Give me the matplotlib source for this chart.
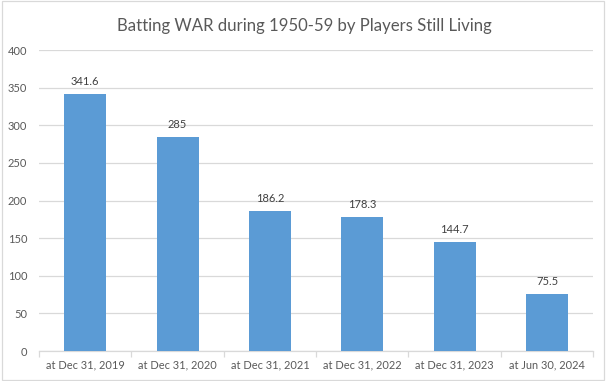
import matplotlib.pyplot as plt
from matplotlib.patches import Rectangle

# ------------------ Data ------------------
categories = ["at Dec 31, 2019", "at Dec 31, 2020", "at Dec 31, 2021",
              "at Dec 31, 2022", "at Dec 31, 2023", "at Jun 30, 2024"]
war = [341.6, 285, 186.2, 178.3, 144.7, 75.5]
labels = ["341.6", "285", "186.2", "178.3", "144.7", "75.5"]
yticks = [0, 50, 100, 150, 200, 250, 300, 350, 400]

BAR = "#5B9BD5"
TXT = "#595959"
GRID = "#D9D9D9"

plt.rcParams['font.family'] = ['Lato', 'DejaVu Sans']

fig = plt.figure(figsize=(6.09, 3.81), dpi=100)
ax = fig.add_axes([0.064, 0.0787, 0.910, 0.790])

x = list(range(len(categories)))
ax.bar(x, war, width=0.455, color=BAR, zorder=3)
for xi, v, lab in zip(x, war, labels):
    ax.annotate(lab, (xi, v), xytext=(0, 5), textcoords="offset points",
                ha="center", va="bottom", fontsize=8.0, color="#404040")

ax.set_xlim(-0.5, len(categories) - 0.5)
ax.set_ylim(0, 400)
ax.set_yticks(yticks)
ax.set_yticklabels([str(t) for t in yticks])
ax.yaxis.grid(True, color=GRID, lw=0.9, zorder=0)
ax.tick_params(axis="y", length=0, labelsize=8.0, labelcolor=TXT, pad=8.5)

ax.set_xticks(x)
ax.set_xticklabels(categories)
ax.tick_params(axis="x", length=0, labelsize=7.9, labelcolor=TXT, pad=6)
ax.set_xticks([i - 0.5 for i in range(len(categories) + 1)], minor=True)
ax.tick_params(axis="x", which="minor", length=4, color=GRID, width=0.9)

for s in ["top", "right", "left"]:
    ax.spines[s].set_visible(False)
ax.spines["bottom"].set_color(GRID)
ax.spines["bottom"].set_linewidth(0.9)

fig.text(0.5, 0.932, "Batting WAR during 1950-59 by Players Still Living",
         ha="center", va="center", fontsize=12.1, color=TXT)

# chart area border
fig.patches.append(Rectangle((2 / 609, 0.002), 602 / 609, 0.996,
                             transform=fig.transFigure, fill=False,
                             edgecolor=GRID, lw=0.9))

fig.savefig("out.png", dpi=100)
